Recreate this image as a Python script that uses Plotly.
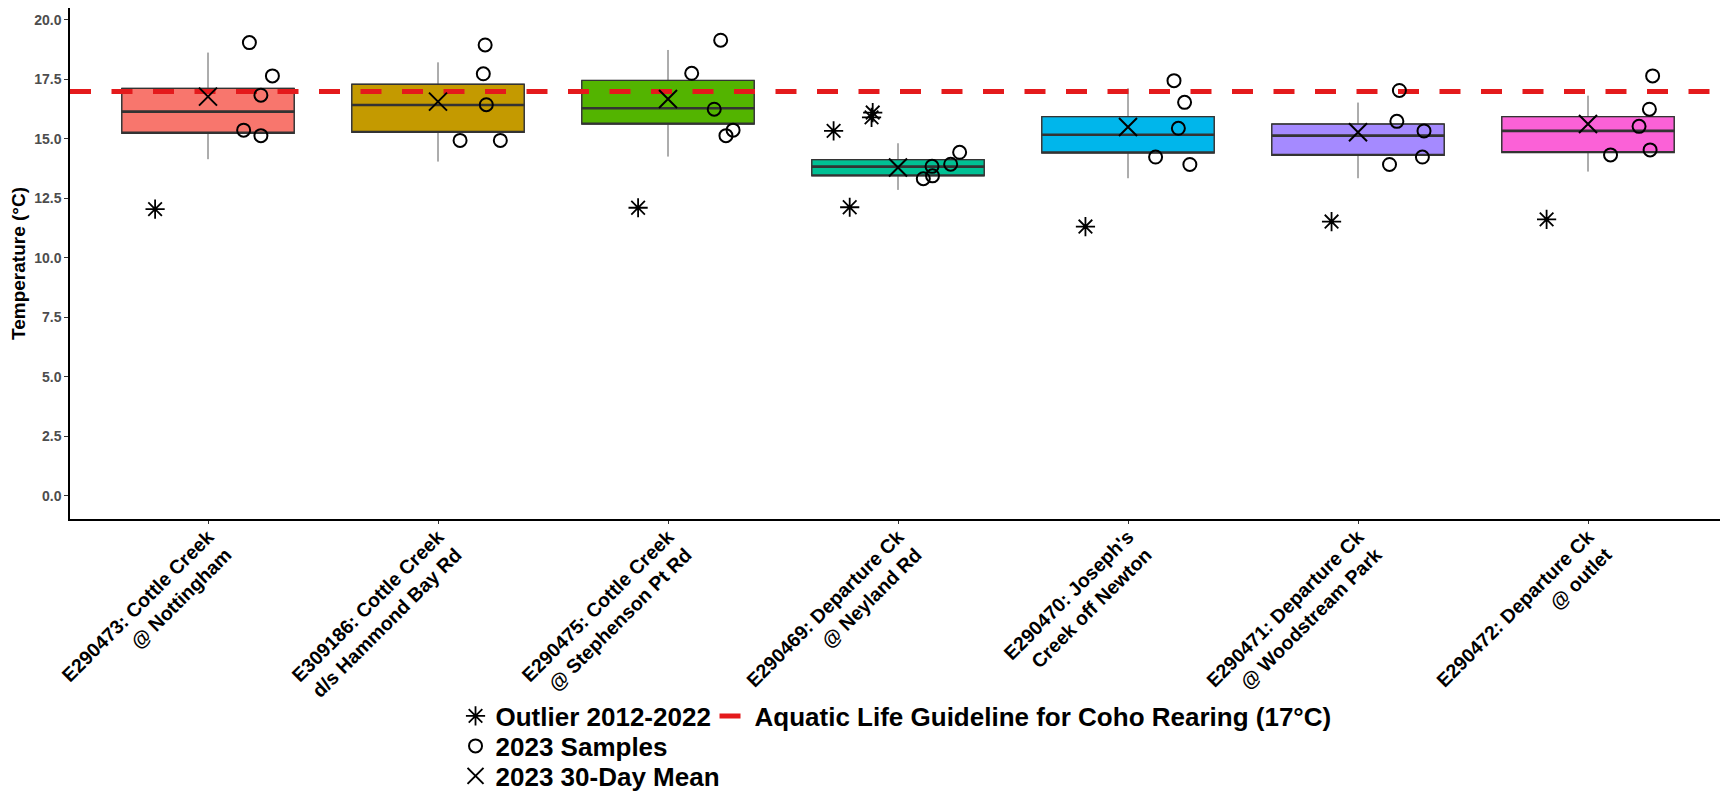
import plotly.graph_objects as go

# site labels (x categories)
sites = [
    "E290473: Cottle Creek<br>@ Nottingham",
    "E309186: Cottle Creek<br>d/s Hammond Bay Rd",
    "E290475: Cottle Creek<br>@ Stephenson Pt Rd",
    "E290469: Departure Ck<br>@ Neyland Rd",
    "E290470: Joseph's<br>Creek off Newton",
    "E290471: Departure Ck<br>@ Woodstream Park",
    "E290472: Departure Ck<br>@ outlet",
]
box_colors = ["#F8766D", "#C49A00", "#53B400", "#00C094", "#00B6EB", "#A58AFF", "#FB61D7"]

# 2012-2022 box stats (deg C)
lower_whisker = [14.15, 14.05, 14.26, 12.86, 13.35, 13.35, 13.63]
q1 = [15.24, 15.28, 15.62, 13.45, 14.41, 14.31, 14.43]
medians = [16.15, 16.43, 16.29, 13.84, 15.18, 15.14, 15.34]
q3 = [17.13, 17.30, 17.46, 14.13, 15.94, 15.63, 15.94]
upper_whisker = [18.63, 18.22, 18.74, 14.82, 17.13, 16.53, 16.82]

# outliers 2012-2022 and their horizontal jitter (category units)
outliers = [[12.05], [], [12.11], [15.34, 12.13, 16.11, 15.91], [11.32], [11.53], [11.62]]
outlier_jitter = [[-0.23], [], [-0.13], [-0.28, -0.21, -0.11, -0.115], [-0.185], [-0.115], [-0.18]]

# 2023 samples and jitter
samples = [
    [19.05, 17.65, 16.84, 15.37, 15.14],
    [18.95, 17.74, 16.44, 14.94, 14.94],
    [19.15, 17.76, 16.25, 15.37, 15.14],
    [14.44, 13.94, 13.85, 13.45, 13.33],
    [17.45, 16.54, 15.45, 14.24, 13.93],
    [17.04, 15.74, 15.34, 14.24, 13.93],
    [17.65, 16.25, 15.53, 14.54, 14.33],
]
sample_jitter = [
    [0.18, 0.28, 0.23, 0.155, 0.23],
    [0.205, 0.197, 0.21, 0.096, 0.271],
    [0.229, 0.103, 0.201, 0.283, 0.252],
    [0.268, 0.229, 0.148, 0.15, 0.11],
    [0.2, 0.246, 0.219, 0.12, 0.269],
    [0.18, 0.169, 0.287, 0.28, 0.137],
    [0.281, 0.267, 0.222, 0.27, 0.098],
]

means_2023 = [16.78, 16.57, 16.68, 13.80, 15.50, 15.28, 15.63]
guideline = 17
y_ticks = [0, 2.5, 5, 7.5, 10, 12.5, 15, 17.5, 20]

FONT = "Liberation Sans, Arial, sans-serif"
x_range = [-0.6, len(sites) - 0.4]

fig = go.Figure()

box_common = dict(width=0.75, whiskerwidth=0, boxpoints=False, showlegend=False, hoverinfo="skip")
for i in range(len(sites)):
    # whiskers + fill (thin grey)
    fig.add_trace(go.Box(
        x=[i], q1=[q1[i]], median=[medians[i]], q3=[q3[i]],
        lowerfence=[lower_whisker[i]], upperfence=[upper_whisker[i]],
        fillcolor=box_colors[i], line=dict(color="#5a5a5a", width=1), **box_common,
    ))
    # box outline
    fig.add_trace(go.Box(
        x=[i], q1=[q1[i]], median=[q1[i]], q3=[q3[i]],
        lowerfence=[q1[i]], upperfence=[q3[i]],
        fillcolor="rgba(0,0,0,0)", line=dict(color="#333333", width=1.3), **box_common,
    ))
    # thick median line
    fig.add_trace(go.Box(
        x=[i], q1=[medians[i]], median=[medians[i]], q3=[medians[i]],
        lowerfence=[medians[i]], upperfence=[medians[i]],
        fillcolor="rgba(0,0,0,0)", line=dict(color="#333333", width=2.6), **box_common,
    ))

fig.add_trace(go.Scatter(
    x=x_range, y=[guideline, guideline], mode="lines",
    line=dict(color="#E41A1C", width=5, dash="21px,20.5px"),
    name="Aquatic Life Guideline for Coho Rearing (17°C)", legend="legend2",
))

ox, oy, sx, sy = [], [], [], []
for i in range(len(sites)):
    for v, j in zip(outliers[i], outlier_jitter[i]):
        ox.append(i + j)
        oy.append(v)
    for v, j in zip(samples[i], sample_jitter[i]):
        sx.append(i + j)
        sy.append(v)

fig.add_trace(go.Scatter(
    x=ox, y=oy, mode="markers", name="Outlier 2012-2022", legend="legend",
    marker=dict(symbol="asterisk-open", size=16, color="black", line=dict(width=1.8, color="black")),
))
fig.add_trace(go.Scatter(
    x=sx, y=sy, mode="markers", name="2023 Samples", legend="legend3",
    marker=dict(symbol="circle-open", size=13, color="black", line=dict(width=2, color="black")),
))
fig.add_trace(go.Scatter(
    x=list(range(len(sites))), y=means_2023, mode="markers", name="2023 30-Day Mean", legend="legend4",
    marker=dict(symbol="x-thin-open", size=18, color="black", line=dict(width=2, color="black")),
))

legend_font = dict(family=FONT, size=26, weight="bold", color="black")


def legend_box(x, y):
    return dict(x=x, y=y, xanchor="left", yanchor="middle", orientation="v",
                font=legend_font, bgcolor="rgba(0,0,0,0)")


# page body has an 8px margin, so the figure is 8px smaller than the window
fig.update_layout(
    width=1720, height=784,
    margin=dict(l=62, r=2, t=0, b=273, autoexpand=False),
    plot_bgcolor="white", paper_bgcolor="white",
    font=dict(family=FONT, color="black"),
    boxmode="overlay",
    legend=legend_box(0.2328, -0.3855),
    legend2=legend_box(0.3892, -0.3855),
    legend3=legend_box(0.2328, -0.4442),
    legend4=legend_box(0.2328, -0.5029),
    xaxis=dict(
        range=x_range, tickvals=list(range(len(sites))), ticktext=sites,
        tickangle=-45, showgrid=False, zeroline=False, automargin=False,
        showline=True, linecolor="black", linewidth=1.5,
        ticks="outside", ticklen=3, tickcolor="#333333", ticklabelstandoff=-6,
        tickfont=dict(family=FONT, size=19.5, weight="bold", color="black"),
    ),
    yaxis=dict(
        range=[-0.97, 20.504], tickvals=y_ticks, tickformat=".1f",
        showgrid=False, zeroline=False, automargin=False,
        showline=True, linecolor="black", linewidth=1.5,
        ticks="outside", ticklen=4, tickcolor="#333333",
        tickfont=dict(family=FONT, size=14, weight="bold", color="#4D4D4D"),
        title=dict(text="Temperature (°C)", standoff=4,
                   font=dict(family=FONT, size=19, weight="bold", color="black")),
    ),
)

fig.write_html("out.html")
